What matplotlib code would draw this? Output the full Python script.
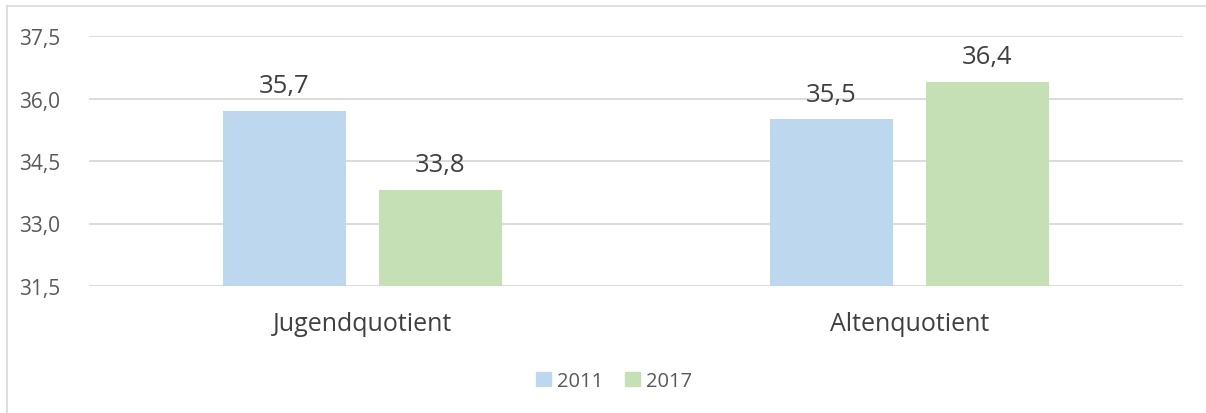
import matplotlib
matplotlib.use("Agg")
import matplotlib.pyplot as plt
from matplotlib.patches import Rectangle
from matplotlib.lines import Line2D
import numpy as np

categories = ["Jugendquotient", "Altenquotient"]
series_names = ["2011", "2017"]
values_2011 = [35.7, 35.5]
values_2017 = [33.8, 36.4]
y_ticks = [31.5, 33.0, 34.5, 36.0, 37.5]
colors = ["#bdd7ee", "#c5e0b4"]

plt.rcParams['font.family'] = ['Open Sans', 'DejaVu Sans']

W, H = 1206, 414
fig = plt.figure(figsize=(W / 100, H / 100), dpi=100)
ax = fig.add_axes([89 / W, 1 - 287 / H, (1183 - 89) / W, (287 - 37) / H])

x = np.arange(len(categories))
bw = 0.225
off = 0.1425
for vals, c, sgn in [(values_2011, colors[0], -1), (values_2017, colors[1], 1)]:
    ax.bar(x + sgn * off, np.array(vals) - y_ticks[0], bw, bottom=y_ticks[0],
           color=c, zorder=3)
    for xi, v in zip(x + sgn * off, vals):
        ax.annotate(f"{v:.1f}".replace(".", ","), (xi, v), xytext=(0, 13.5),
                    textcoords="offset points", ha="center", va="baseline",
                    fontsize=18.5, color="#404040")

ax.set_xlim(-0.5, 1.5)
ax.set_ylim(y_ticks[0], y_ticks[-1])
ax.set_yticks(y_ticks)
ax.set_yticklabels([f"{t:.1f}".replace(".", ",") for t in y_ticks])
ax.set_xticks(x)
ax.set_xticklabels(categories)
ax.tick_params(axis="y", length=0, pad=21, labelsize=15, labelcolor="#595959")
ax.tick_params(axis="x", length=0, pad=18, labelsize=18, labelcolor="#404040")
ax.grid(axis="y", color="#d9d9d9", linewidth=1.3, zorder=0)
for s in ax.spines.values():
    s.set_visible(False)
ax.set_facecolor("none")

# chart border
fig.add_artist(Line2D([7 / W, 7 / W], [0, 1 - 7 / H], transform=fig.transFigure,
                      color="#d9d9d9", linewidth=1.2))
fig.add_artist(Line2D([7 / W, 1], [1 - 7 / H, 1 - 7 / H], transform=fig.transFigure,
                      color="#d9d9d9", linewidth=1.2))

handles = [Rectangle((0, 0), 1, 1, color=c) for c in colors]
fig.legend(handles, series_names, loc="center", bbox_to_anchor=(614 / W, 1 - 382 / H),
           ncol=2, frameon=False, fontsize=14.5, labelcolor="#595959",
           handlelength=0.75, handleheight=0.75, handletextpad=0.3, columnspacing=1.1)

fig.savefig("out.png", dpi=100)
